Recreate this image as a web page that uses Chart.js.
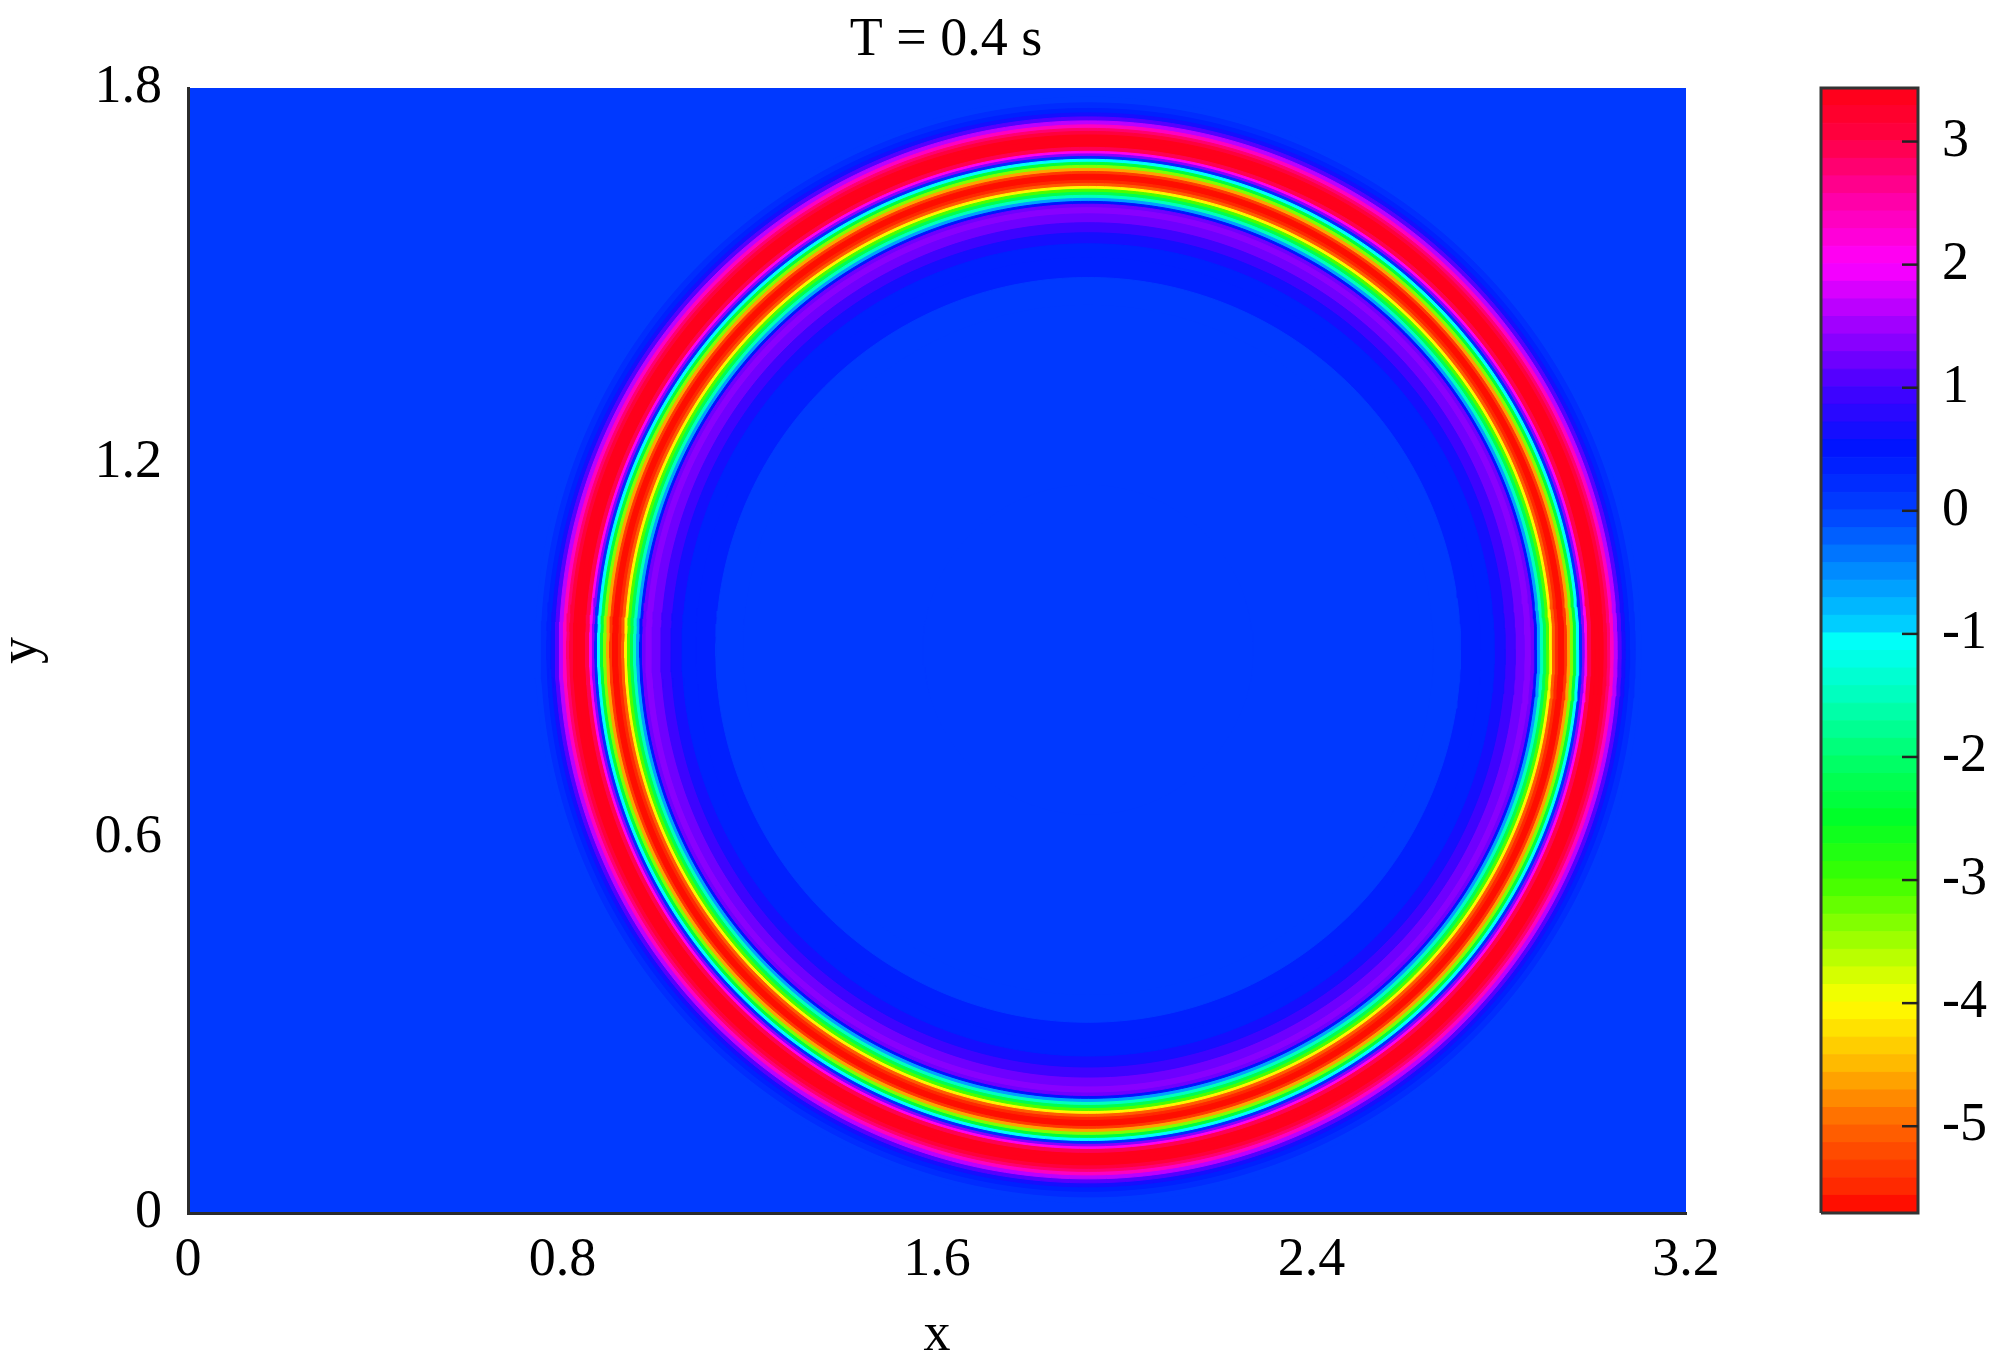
<!DOCTYPE html>
<html>
<head>
<meta charset="utf-8">
<script src="https://cdn.jsdelivr.net/npm/chart.js@4.4.1/dist/chart.umd.min.js"></script>
<style>
html,body{margin:0;padding:0;background:#fff;width:1999px;height:1364px;overflow:hidden;}
#mainBox{position:absolute;left:0;top:0;width:1892px;height:1364px;}
#barBox{position:absolute;left:1780px;top:0;width:219px;height:1364px;}
</style>
</head>
<body>
<div id="mainBox"><canvas id="main"></canvas></div>
<div id="barBox"><canvas id="bar"></canvas></div>
<script>
// ---------- data ----------
const TITLE = 'T = 0.4 s';
const X_LABEL = 'x';
const Y_LABEL = 'y';
const X_TICKS = [0, 0.8, 1.6, 2.4, 3.2];
const X_TICK_LABELS = ['0', '0.8', '1.6', '2.4', '3.2'];
const Y_TICKS = [0, 0.6, 1.2, 1.8];
const Y_TICK_LABELS = ['0', '0.6', '1.2', '1.8'];
const CB_TICKS = [-5, -4, -3, -2, -1, 0, 1, 2, 3];
const CB_TICK_LABELS = ['-5', '-4', '-3', '-2', '-1', '0', '1', '2', '3'];
const VALUE_MIN = -5.705;
const VALUE_MAX = 3.435;
const N_LEVELS = 64;
const WAVE_CENTER_X = 1.923;
const WAVE_CENTER_Y = 0.901;
const BACKGROUND_VALUE = 0.05;
// radial profile of the field: radius (x units) and value
const PROFILE_R = [0.000, 0.705, 0.769, 0.822, 0.855, 0.880, 0.902, 0.923, 0.940, 0.949,
                   0.955, 0.961, 0.968, 0.974, 0.981, 0.987, 0.993, 1.000, 1.006, 1.013,
                   1.019, 1.025, 1.032, 1.038, 1.045, 1.051, 1.057, 1.062, 1.068, 1.079,
                   1.087, 1.096, 1.104, 1.111, 1.117, 1.126, 1.134, 1.143, 1.151, 1.162, 1.175];
const PROFILE_V = [0.05, 0.05, 0.12, 0.30, 0.40, 0.60, 0.90, 1.20, 1.40, 1.20,
                   0.50, -0.70, -1.50, -2.20, -3.00, -4.00, -5.00, -5.50, -5.70, -5.65,
                   -5.40, -4.60, -3.40, -2.30, -1.10, 0.20, 1.30, 2.10, 3.00, 3.30,
                   3.43, 3.38, 3.10, 2.80, 2.30, 1.70, 1.10, 0.65, 0.40, 0.20, 0.05];

// ---------- styles ----------
const FONT = "'Liberation Serif', 'Times New Roman', serif";
const ELLIPSE_Y_SCALE = 0.749;   // y-units per x-unit for a round ring on this plot
const N_SEG = 360;
const CMAP = [
  [-5.705, 255, 0, 0], [-5.5, 255, 40, 0], [-5.0, 255, 100, 0], [-4.5, 255, 185, 0],
  [-4.0, 255, 255, 0], [-3.5, 160, 255, 0], [-3.0, 60, 255, 0], [-2.5, 0, 255, 40],
  [-2.0, 0, 255, 110], [-1.5, 0, 255, 190], [-1.02, 0, 255, 255], [-0.98, 0, 215, 255],
  [-0.5, 0, 140, 255], [0.0, 0, 64, 255], [0.5, 0, 20, 255], [1.0, 70, 0, 255],
  [1.5, 160, 0, 255], [2.0, 255, 0, 255], [2.5, 255, 0, 170], [3.0, 255, 0, 70], [3.435, 255, 0, 20]
];
function cmapRaw(v) {
  if (v <= CMAP[0][0]) return CMAP[0].slice(1);
  for (let i = 1; i < CMAP.length; i++) {
    if (v <= CMAP[i][0]) {
      const a = CMAP[i - 1], b = CMAP[i];
      const t = (v - a[0]) / (b[0] - a[0]);
      return [0, 1, 2].map(k => Math.round(a[k + 1] + t * (b[k + 1] - a[k + 1])));
    }
  }
  return CMAP[CMAP.length - 1].slice(1);
}
const STEP = (VALUE_MAX - VALUE_MIN) / N_LEVELS;
const LEVEL_COLORS = [];
for (let i = 0; i < N_LEVELS; i++) {
  const c = cmapRaw(VALUE_MIN + (i + 0.5) * STEP);
  LEVEL_COLORS.push(`rgb(${c[0]},${c[1]},${c[2]})`);
}
function colorOf(v) {
  let i = Math.floor((v - VALUE_MIN) / STEP);
  i = Math.max(0, Math.min(N_LEVELS - 1, i));
  return LEVEL_COLORS[i];
}

// ---------- field: nested filled rings, innermost first ----------
function ellipse(r) {
  const pts = [];
  for (let k = 0; k <= N_SEG; k++) {
    const a = 2 * Math.PI * k / N_SEG;
    pts.push({x: WAVE_CENTER_X + r * Math.cos(a), y: WAVE_CENTER_Y + r * ELLIPSE_Y_SCALE * Math.sin(a)});
  }
  return pts;
}
const fieldSets = [];
for (let i = 0; i < PROFILE_R.length; i++) {
  const outer = i < PROFILE_R.length - 1
    ? (PROFILE_R[i] + PROFILE_R[i + 1]) / 2
    : PROFILE_R[i] + (PROFILE_R[i] - PROFILE_R[i - 1]) / 2;
  const col = colorOf(PROFILE_V[i]);
  fieldSets.push({data: ellipse(outer), showLine: true, fill: 'shape', backgroundColor: col,
    borderColor: col, borderWidth: 1, pointRadius: 0, tension: 0});
}
const bgCol = colorOf(BACKGROUND_VALUE);
fieldSets.push({
  data: [{x: X_TICKS[0], y: Y_TICKS[0]}, {x: X_TICKS[X_TICKS.length - 1], y: Y_TICKS[0]},
         {x: X_TICKS[X_TICKS.length - 1], y: Y_TICKS[Y_TICKS.length - 1]}, {x: X_TICKS[0], y: Y_TICKS[Y_TICKS.length - 1]},
         {x: X_TICKS[0], y: Y_TICKS[0]}],
  showLine: true, fill: 'shape', backgroundColor: bgCol, borderColor: bgCol, borderWidth: 1, pointRadius: 0
});

const tickFont = {family: FONT, size: 54, weight: 'normal'};

new Chart(document.getElementById('main'), {
  type: 'scatter',
  data: {datasets: fieldSets},
  options: {
    responsive: true, maintainAspectRatio: false, animation: false, events: [],
    layout: {padding: 0},
    plugins: {
      legend: {display: false}, tooltip: {enabled: false},
      title: {display: true, text: TITLE, color: '#000', font: {family: FONT, size: 54, weight: 'normal'},
              padding: {top: 8, bottom: 15.2}}
    },
    scales: {
      x: {
        type: 'linear', min: X_TICKS[0], max: X_TICKS[X_TICKS.length - 1],
        afterBuildTicks: s => { s.ticks = X_TICKS.map(v => ({value: v})); },
        afterFit: s => { s.height = 151; },
        ticks: {autoSkip: false, maxRotation: 0, color: '#000', font: tickFont, padding: 15,
                callback: v => X_TICK_LABELS[X_TICKS.indexOf(v)]},
        grid: {display: false, drawTicks: false},
        border: {display: true, color: '#2b2b2b', width: 3, z: 1},
        title: {display: true, text: X_LABEL, color: '#000', font: {family: FONT, size: 54, weight: 'normal', lineHeight: 1.0},
                padding: {top: 0, bottom: 1}}
      },
      y: {
        type: 'linear', min: Y_TICKS[0], max: Y_TICKS[Y_TICKS.length - 1],
        afterBuildTicks: s => { s.ticks = Y_TICKS.map(v => ({value: v})); },
        afterFit: s => { s.width = 188; },
        ticks: {autoSkip: false, color: '#000', font: tickFont, padding: 26,
                callback: v => Y_TICK_LABELS[Y_TICKS.indexOf(v)]},
        grid: {display: false, drawTicks: false},
        border: {display: true, color: '#2b2b2b', width: 3, z: 1},
        title: {display: true, text: Y_LABEL, color: '#000', font: {family: FONT, size: 54, weight: 'normal', lineHeight: 0.8},
                padding: {top: 0, bottom: 0}}
      },
      yRight: {
        type: 'linear', position: 'right', min: Y_TICKS[0], max: Y_TICKS[Y_TICKS.length - 1],
        afterFit: s => { s.width = 206; },
        ticks: {display: false},
        grid: {display: false, drawTicks: false},
        border: {display: false}
      }
    }
  }
});

// ---------- colour bar ----------
const barSets = [];
for (const t of CB_TICKS) {
  barSets.push({data: [{x: 0.835, y: t}, {x: 1, y: t}], showLine: true, fill: false,
    borderColor: '#222', borderWidth: 2.5, pointRadius: 0});
}
barSets.push({data: [{x: 0, y: VALUE_MIN}, {x: 1, y: VALUE_MIN}, {x: 1, y: VALUE_MAX}, {x: 0, y: VALUE_MAX}, {x: 0, y: VALUE_MIN}],
  showLine: true, fill: false, borderColor: '#333', borderWidth: 3, pointRadius: 0, clip: false});
for (let i = 0; i < N_LEVELS; i++) {
  const lo = VALUE_MIN + i * STEP, hi = lo + STEP;
  barSets.push({data: [{x: 0, y: lo}, {x: 1, y: lo}, {x: 1, y: hi}, {x: 0, y: hi}, {x: 0, y: lo}],
    showLine: true, fill: 'shape', backgroundColor: LEVEL_COLORS[i], borderColor: LEVEL_COLORS[i],
    borderWidth: 1, pointRadius: 0});
}

new Chart(document.getElementById('bar'), {
  type: 'scatter',
  data: {datasets: barSets},
  options: {
    responsive: true, maintainAspectRatio: false, animation: false, events: [],
    layout: {padding: {left: 41, right: 0, top: 88, bottom: 151}},
    plugins: {legend: {display: false}, tooltip: {enabled: false}, title: {display: false}},
    scales: {
      x: {type: 'linear', min: 0, max: 1, display: false},
      y: {
        type: 'linear', position: 'right', min: VALUE_MIN, max: VALUE_MAX,
        afterBuildTicks: s => { s.ticks = CB_TICKS.map(v => ({value: v})); },
        afterFit: s => { s.width = 81; },
        ticks: {autoSkip: false, color: '#000', font: tickFont, padding: 24,
                callback: v => CB_TICK_LABELS[CB_TICKS.indexOf(v)]},
        grid: {display: false, drawTicks: false},
        border: {display: false}
      }
    }
  }
});
</script>
</body>
</html>
